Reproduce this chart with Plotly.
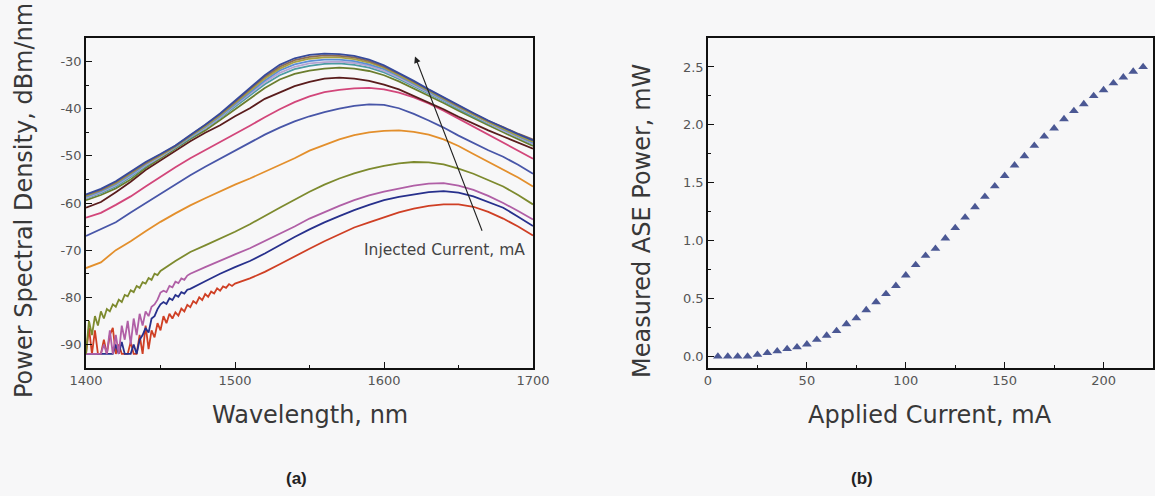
import plotly.graph_objects as go

# ---------------- Panel (a): spectra ----------------
WL = list(range(1400, 1701, 10))          # common wavelength grid, nm
WL_FINE_RED = list(range(1400, 1500, 2))  # noisy low-power segments
WL_FINE_BM = list(range(1400, 1470, 2))
WL_FINE_OL = list(range(1400, 1450, 2))

red_fine = [-92, -86.5, -92, -87, -92, -92, -89, -92, -88, -86.5, -92, -90, -92, -92, -92,
            -89.5, -92, -92, -88, -92, -86, -91, -87, -88.5, -85.5, -87, -84, -85.5, -83.5, -84.5,
            -83.2, -83.9, -82.4, -83.0, -81.6, -82.1, -80.8, -81.3, -80.0, -80.6,
            -79.3, -79.9, -78.8, -79.2, -78.1, -78.6, -77.7, -78.0, -77.2, -77.6]
red_main = [-77.1, -76.0, -74.6, -73.0, -71.3, -69.7, -68.1, -66.6,
            -65.2, -64.1, -63.0, -62.0, -61.2, -60.6, -60.3, -60.3, -60.8, -61.9, -63.3, -65.0, -66.9]

navy_fine = [-92, -92, -92, -92, -92, -92, -92, -92, -92, -92, -90, -92, -89.5, -92, -92, -92,
             -90, -92, -89, -88, -86.5, -87.5, -84.5, -84, -82.5,
             -81.5, -81.0, -81.4, -80.2, -80.6, -79.5, -79.9, -78.9, -79.2, -78.4]
navy_main = [-78.2, -76.6, -75.0, -73.6, -72.3, -70.7, -68.9, -67.2, -65.6, -64.1,
             -62.8, -61.5, -60.4, -59.4, -58.7, -58.2, -57.7, -57.5, -57.8, -58.6, -59.8, -61.0,
             -62.9, -64.9]

mag_fine = [-92, -92, -92, -92, -92, -92, -90, -92, -87, -92, -88, -92, -86, -89, -85, -90,
            -84.5, -88, -83.5, -86, -83, -84, -82, -81.5, -80.5,
            -79.0, -78.6, -78.9, -77.6, -77.9, -76.7, -77.0, -76.0, -76.3, -75.4]
mag_main = [-75.0, -73.6, -72.2, -70.9, -69.6, -68.1, -66.6, -65.0, -63.3, -61.9,
            -60.6, -59.4, -58.4, -57.6, -56.9, -56.3, -55.9, -55.8, -56.3, -57.2, -58.5, -60.0,
            -61.7, -63.5]

olive_fine = [-92, -85, -88, -84, -86, -83, -84.5, -82.5, -83, -81.5, -82, -80.5, -81, -79.5, -79.8,
              -78.5, -78.9, -77.6, -78.0, -76.8, -77.1, -75.9, -76.3, -75.0, -75.3]
olive_main = [-74.4, -72.3, -70.4, -69.0, -67.6, -66.1, -64.5, -62.7, -61.0, -59.3,
              -57.6, -56.1, -54.8, -53.7, -52.8, -52.1, -51.6, -51.3, -51.4, -51.8, -52.7, -53.8,
              -55.1, -56.5, -58.3, -60.3]

orange = [-73.8, -72.6, -70.0, -68.1, -66.0, -64.0, -62.2, -60.5, -59.0, -57.5, -56.1, -54.8,
          -53.4, -52.0, -50.5, -48.9, -47.7, -46.5, -45.6, -45.0, -44.7, -44.6, -44.9, -45.5,
          -46.5, -47.9, -49.6, -51.3, -52.9, -54.6, -56.5]
blue3 = [-67.0, -65.6, -64.1, -62.0, -60.0, -58.1, -56.1, -54.1, -52.3, -50.6, -48.8, -47.1,
         -45.5, -44.0, -42.7, -41.6, -40.7, -40.0, -39.4, -39.1, -39.2, -39.9, -41.1, -42.5,
         -44.0, -45.7, -47.3, -48.8, -50.2, -51.9, -53.8]
pink = [-63.1, -62.1, -60.4, -58.6, -56.5, -54.4, -52.4, -50.5, -48.8, -47.1, -45.3, -43.6,
        -41.8, -40.1, -38.6, -37.4, -36.5, -36.0, -35.7, -35.6, -35.9, -36.6, -37.6, -38.9,
        -40.4, -42.1, -43.9, -45.6, -47.3, -49.0, -50.6]
maroon = [-61.0, -59.8, -57.7, -55.5, -53.0, -51.0, -49.0, -46.9, -45.1, -43.5, -41.6, -39.9,
          -37.9, -36.5, -35.2, -34.3, -33.6, -33.4, -33.6, -34.1, -34.9, -35.9, -37.3, -38.6,
          -40.1, -41.7, -43.2, -44.6, -45.9, -47.2, -48.5]
olive2 = [-59.4, -58.3, -56.9, -55.0, -52.6, -50.6, -48.5, -46.4, -44.6, -42.4, -40.1, -37.8,
          -35.6, -33.8, -32.6, -31.9, -31.5, -31.3, -31.5, -32.0, -32.9, -34.2, -35.7, -37.2,
          -38.8, -40.4, -42.0, -43.5, -45.0, -46.4, -47.9]
b5 = [-59.0, -57.9, -56.5, -54.5, -52.2, -50.3, -48.3, -46.2, -44.2, -42.0, -39.6, -37.1,
      -34.8, -32.9, -31.6, -30.9, -30.5, -30.4, -30.7, -31.3, -32.3, -33.7, -35.2, -36.8,
      -38.4, -40.1, -41.7, -43.2, -44.7, -46.1, -47.5]
b4 = [-58.9, -57.7, -56.2, -54.2, -52.0, -50.2, -48.2, -46.0, -44.1, -41.8, -39.3, -36.8,
      -34.4, -32.4, -31.1, -30.4, -30.1, -30.0, -30.3, -30.9, -32.0, -33.4, -35.0, -36.6,
      -38.3, -39.9, -41.5, -43.1, -44.6, -46.0, -47.4]
b3 = [-58.7, -57.5, -56.0, -54.0, -51.8, -50.0, -48.1, -45.9, -43.9, -41.6, -39.1, -36.5,
      -34.0, -31.9, -30.6, -29.9, -29.6, -29.6, -29.9, -30.6, -31.6, -33.1, -34.7, -36.4,
      -38.1, -39.7, -41.3, -42.9, -44.4, -45.8, -47.2]
b2 = [-58.5, -57.3, -55.8, -53.7, -51.6, -49.9, -48.0, -45.8, -43.7, -41.4, -38.8, -36.2,
      -33.6, -31.5, -30.1, -29.4, -29.1, -29.1, -29.5, -30.2, -31.3, -32.9, -34.5, -36.2,
      -37.9, -39.6, -41.2, -42.8, -44.3, -45.7, -47.0]
b1 = [-58.3, -57.2, -55.6, -53.5, -51.5, -49.7, -47.9, -45.7, -43.5, -41.2, -38.6, -35.9,
      -33.2, -31.1, -29.7, -29.0, -28.7, -28.8, -29.1, -29.9, -31.1, -32.6, -34.3, -36.1,
      -37.7, -39.4, -41.0, -42.6, -43.9, -45.3, -46.5]
top = [-58.2, -57.0, -55.4, -53.3, -51.3, -49.6, -47.8, -45.6, -43.4, -41.0, -38.4, -35.6,
       -32.9, -30.7, -29.3, -28.6, -28.3, -28.4, -28.8, -29.6, -30.8, -32.4, -34.1, -35.9,
       -37.6, -39.3, -40.9, -42.5, -44.0, -45.4, -46.7]

# ---------------- Panel (b): ASE power ----------------
CURRENT_MA = [5, 10, 15, 20, 25, 30, 35, 40, 45, 50, 55, 60, 65, 70, 75, 80, 85, 90, 95, 100,
              105, 110, 115, 120, 125, 130, 135, 140, 145, 150, 155, 160, 165, 170, 175, 180,
              185, 190, 195, 200, 205, 210, 215, 220]
ASE_MW = [0.0, 0.0, 0.0, 0.0, 0.015, 0.03, 0.045, 0.065, 0.08, 0.105, 0.145, 0.18, 0.22, 0.28,
          0.33, 0.40, 0.47, 0.54, 0.61, 0.70, 0.79, 0.87, 0.93, 1.02, 1.11, 1.20, 1.29, 1.38,
          1.47, 1.56, 1.65, 1.73, 1.82, 1.90, 1.97, 2.05, 2.12, 2.18, 2.25, 2.30, 2.36, 2.41,
          2.46, 2.50]

X_TICKS_A = [1400, 1500, 1600, 1700]
Y_TICKS_A = [-90, -80, -70, -60, -50, -40, -30]
Y_TEXT_A = ["-90", "-80", "-70", "-60", "-50", "-40", "-30"]
X_TICKS_B = [0, 50, 100, 150, 200]
Y_TICKS_B = [0.0, 0.5, 1.0, 1.5, 2.0, 2.5]

series = [
    (WL_FINE_RED + WL[10:], red_fine + red_main, "#cf3f24"),
    (WL_FINE_BM + WL[7:], navy_fine + navy_main, "#27308c"),
    (WL_FINE_BM + WL[7:], mag_fine + mag_main, "#b05fa6"),
    (WL_FINE_OL + WL[5:], olive_fine + olive_main, "#7d8a2e"),
    (WL, orange, "#e38f2c"),
    (WL, blue3, "#4856a8"),
    (WL, pink, "#d2467a"),
    (WL, maroon, "#5a1c1c"),
    (WL, olive2, "#6b7d2e"),
    (WL, b5, "#4c9ca3"),
    (WL, b4, "#b6a4d2"),
    (WL, b3, "#5b8fd6"),
    (WL, b2, "#a9a23f"),
    (WL, b1, "#8c6c55"),
    (WL, top, "#364a9c"),
]

fig = go.Figure()
for xs, ys, col in series:
    fig.add_trace(go.Scatter(x=xs, y=ys, mode="lines", line=dict(color=col, width=1.8),
                             showlegend=False, hoverinfo="skip", xaxis="x", yaxis="y"))

fig.add_trace(go.Scatter(x=CURRENT_MA, y=ASE_MW, mode="markers",
                         marker=dict(symbol="triangle-up", size=8.5, color="#4b5894"),
                         showlegend=False, xaxis="x2", yaxis="y2"))

W, H = 1155, 496
BG = "#f7f7f8"
tickfont = dict(family="DejaVu Sans", size=13, color="#555555")
common = dict(showline=True, mirror=True, linecolor="#111111", linewidth=1.5,
              ticks="inside", ticklen=6, tickwidth=1.3, tickcolor="#111111",
              showgrid=False, zeroline=False, tickfont=tickfont, automargin=False)

fig.update_layout(
    width=W, height=H, autosize=False,
    margin=dict(l=0, r=0, t=0, b=0, pad=0),
    paper_bgcolor=BG, plot_bgcolor=BG,
    xaxis=dict(domain=[86 / W, 533 / W], range=[1400, 1700], tickvals=X_TICKS_A,
               minor=dict(ticks="inside", ticklen=3, dtick=50, tickcolor="#111111"),
               anchor="y", **common),
    yaxis=dict(domain=[1 - 368 / H, 1 - 38 / H], range=[-95, -25], tickvals=Y_TICKS_A,
               ticktext=Y_TEXT_A,
               minor=dict(ticks="inside", ticklen=3, dtick=5, tickcolor="#111111"),
               anchor="x", **common),
    xaxis2=dict(domain=[708 / W, 1153 / W], range=[0, 225], tickvals=X_TICKS_B,
                minor=dict(ticks="inside", ticklen=3, dtick=25, tickcolor="#111111"),
                anchor="y2", **common),
    yaxis2=dict(domain=[1 - 368 / H, 1 - 38 / H], range=[-0.1, 2.75], tickvals=Y_TICKS_B,
                tickformat=".1f",
                minor=dict(ticks="inside", ticklen=3, dtick=0.25, tickcolor="#111111"),
                anchor="x2", **common),
)

title_font = dict(family="DejaVu Sans", size=24, color="#383838")
ann = [
    dict(text="Wavelength, nm", x=310 / W, y=1 - 415 / H, font=title_font),
    dict(text="Applied Current, mA", x=930 / W, y=1 - 415 / H, font=title_font),
    dict(text="Power Spectral Density, dBm/nm", x=24 / W, y=1 - 201 / H,
         textangle=-90, font=title_font),
    dict(text="Measured ASE Power, mW", x=642 / W, y=1 - 221 / H,
         textangle=-90, font=title_font),
    dict(text="<b>(a)</b>", x=297 / W, y=1 - 478 / H,
         font=dict(family="Liberation Sans", size=17, color="#222222")),
    dict(text="<b>(b)</b>", x=862 / W, y=1 - 478 / H,
         font=dict(family="Liberation Sans", size=17, color="#222222")),
]
for a in ann:
    fig.add_annotation(xref="paper", yref="paper", showarrow=False,
                       xanchor="center", yanchor="middle", **a)

# arrow and label in panel (a)
fig.add_annotation(x=1620.8, y=-28.9, ax=1666.2, ay=-66.2, xref="x", yref="y",
                   axref="x", ayref="y", showarrow=True, arrowhead=2, arrowsize=1.2,
                   arrowwidth=1.1, arrowcolor="#222222", text="")
fig.add_annotation(x=1640.6, y=-69.9, xref="x", yref="y", showarrow=False,
                   text="Injected Current, mA",
                   font=dict(family="DejaVu Sans", size=15.5, color="#444444"))

fig.write_html("out.html", config={"responsive": False, "displayModeBar": False},
               post_script="document.body.style.margin='0';"
                           "document.body.style.overflow='hidden';")
